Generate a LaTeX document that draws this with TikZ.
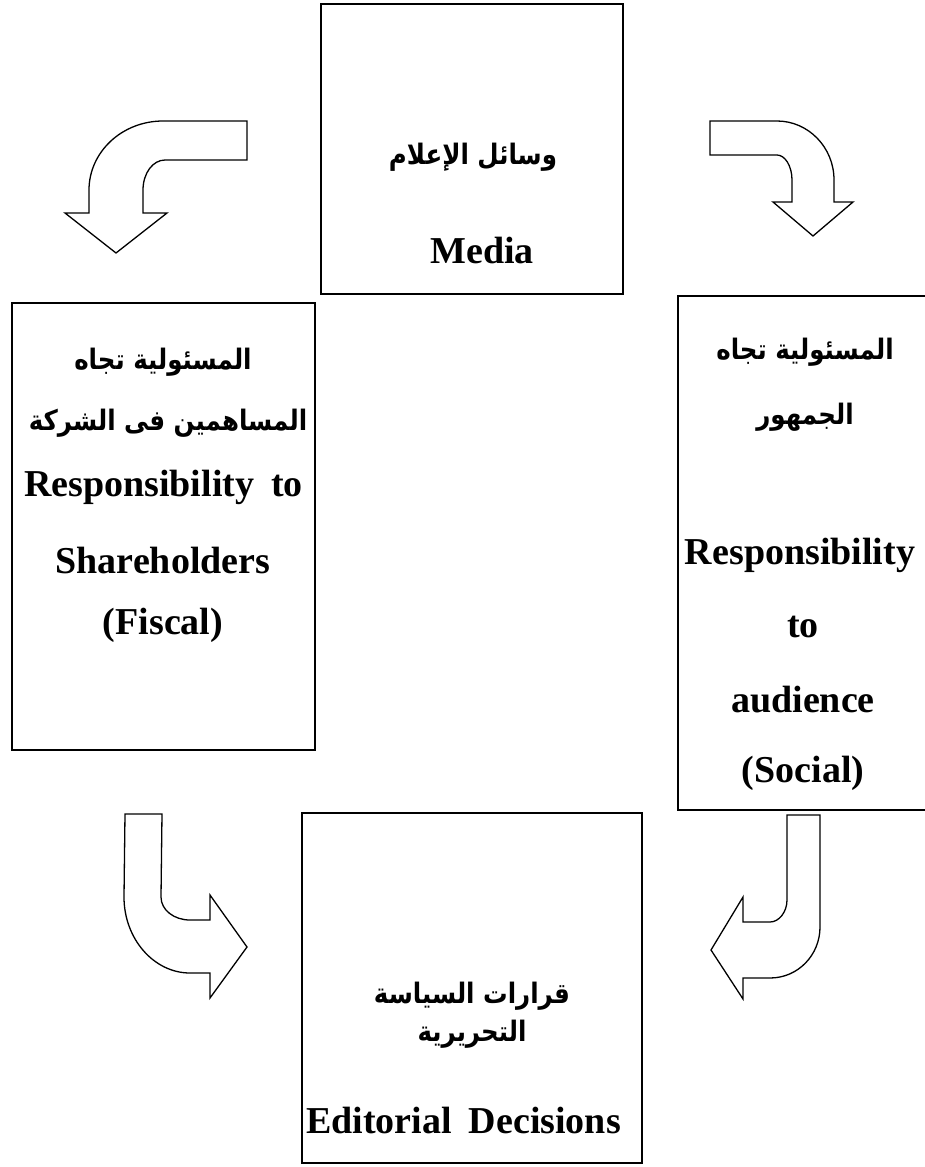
\documentclass[tikz,border=0pt]{standalone}
\usepackage{fontspec}
\usepackage{graphicx}
\setmainfont{Liberation Serif}
\newfontfamily\arabicfont{DejaVu Sans}[Script=Arabic]
\TeXXeTstate=1
\newcommand{\artext}[1]{\scalebox{1}[1.15]{\beginR #1\endR}}
\begin{document}
\begin{tikzpicture}[x=1pt,y=-1pt,
  box/.style={draw,line width=2.5pt,rectangle,inner sep=0pt},
  blockarrow/.style={draw,line width=1.3pt,line join=miter,fill=white},
  ar/.style={font=\arabicfont\bfseries\fontsize{24.5}{28}\selectfont,inner sep=0pt,anchor=center},
  en/.style={font=\bfseries\fontsize{38}{44}\selectfont,inner sep=0pt,anchor=center}]
\clip (0,0) rectangle (925,1167);
\fill[white] (0,0) rectangle (925,1167);

% boxes
\node[box,minimum width=302pt,minimum height=290pt] (media) at (472,149) {};
\node[box,minimum width=303pt,minimum height=447pt] (left) at (163.5,526.5) {};
\node[box,minimum width=260pt,minimum height=514pt] (right) at (808,553) {};
\node[box,minimum width=340pt,minimum height=350pt] (bottom) at (472,988) {};

% texts
\node[ar] (m1) at (473,157) {\artext{وسائل الإعلام}};
\node[en] (m2) at (482,250) {Media};

\node[ar] (l1) at (163,362) {\artext{المسئولية تجاه}};
\node[ar] (l2) at (168,423) {\artext{المساهمين فى الشركة}};
\node[en] (l3) at (163.5,487) {Responsibility\hspace{17pt}to};
\node[en] (l4) at (163,560) {Shareholders};
\node[en] (l5) at (163,625) {(Fiscal)};

\node[ar] (r1) at (805,352) {\artext{المسئولية تجاه}};
\node[ar] (r2) at (805,417) {\artext{الجمهور}};
\node[en] (r3) at (800,555) {Responsibility};
\node[en] (r4) at (803,627) {to};
\node[en] (r5) at (803,700) {audience};
\node[en] (r6) at (803,773) {(Social)};

\node[ar] (b1) at (472,996) {\artext{قرارات السياسة}};
\node[ar] (b2) at (472,1034) {\artext{التحريرية}};
\node[en] (b3) at (463.5,1120) {Editorial\hspace{17pt}Decisions};

% block arrows
\draw[blockarrow] (247,121) -- (163,121) .. controls (122,121) and (89,152) .. (89,190)
  -- (89,213) -- (65,213) -- (116,253) -- (167,213) -- (143,213) -- (143,190)
  .. controls (143,173) and (153,160) .. (165,160) -- (247,160) -- cycle;

\draw[blockarrow] (710,121) -- (777,121) .. controls (808,121) and (834,147) .. (834,180)
  -- (834,202) -- (853,202) -- (813,236) -- (773,202) -- (792,202) -- (792,180)
  .. controls (792,166) and (785,155) .. (777,155) -- (710,155) -- cycle;

\draw[blockarrow] (125,814) -- (124,897) .. controls (124,939) and (154,973) .. (190,973)
  -- (210,973) -- (210,998) -- (247,947) -- (210,895) -- (210,920) -- (190,920)
  .. controls (174,920) and (161,910) .. (161,897) -- (162,814) -- cycle;

\draw[blockarrow] (820,815) -- (820,927) .. controls (820,955) and (798,978) .. (770,978)
  -- (743,978) -- (743,999) -- (711,950) -- (743,897) -- (743,922) -- (770,922)
  .. controls (779,922) and (787,912) .. (787,900) -- (787,815) -- cycle;
\end{tikzpicture}
\end{document}
